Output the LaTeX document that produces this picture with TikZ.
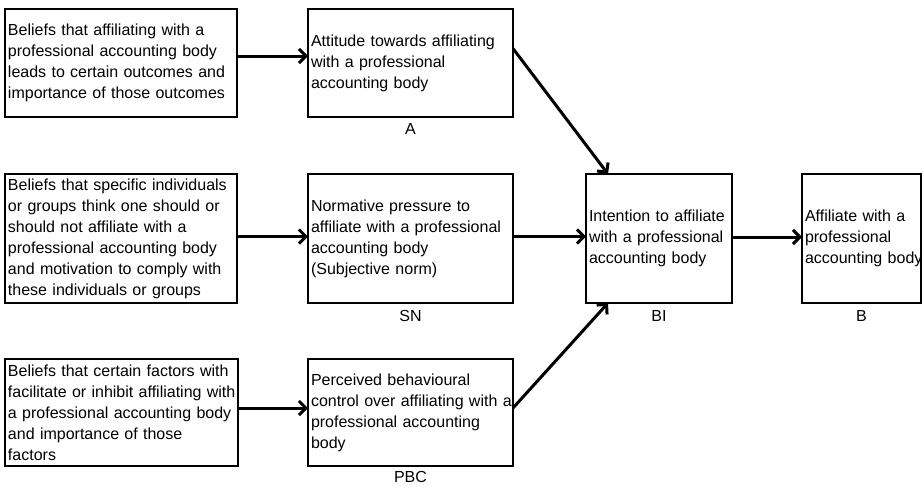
\documentclass[tikz,border=0pt]{standalone}
\usepackage{fontspec}
\setmainfont{Liberation Sans}
\usepackage{tikz}
\usetikzlibrary{arrows.meta}
\usetikzlibrary{positioning}
\hyphenpenalty=10000
\exhyphenpenalty=10000
\tikzset{box/.style={draw, line width=2pt, outer sep=0pt, anchor=north west, inner xsep=3pt, inner ysep=0pt, align=left, font=\fontsize{16}{21}\selectfont}}
\tikzset{tag/.style={inner sep=0pt, font=\fontsize{16}{21}\selectfont}}
\tikzset{link/.style={line width=3pt, -{Straight Barb[length=7pt,width=14pt]}}}

\begin{document}
\begin{tikzpicture}[x=1pt, y=-1pt]
{
\useasboundingbox (0,0) rectangle (923,485);
\node[box, text width=226pt, minimum height=108pt] (belatt) at (5,9) {Beliefs that affiliating with a\\professional accounting body\\leads to certain outcomes and\\importance of those outcomes};
\node[box, text width=199pt, minimum height=108pt] (att) at (308,9) {Attitude towards affiliating\\with a professional\\accounting body};
\node[box, text width=226pt, minimum height=129pt] (belsn) at (5,174) {Beliefs that specific individuals\\or groups think one should or\\should not affiliate with a\\professional accounting body\\and motivation to comply with\\these individuals or groups};
\node[box, text width=199pt, minimum height=129pt] (sn) at (308,174) {Normative pressure to\\affiliate with a professional\\accounting body\\(Subjective norm)};
\node[box, text width=140pt, minimum height=129pt] (bi) at (586,174) {Intention to affiliate\\with a professional\\accounting body};
\node[box, text width=113pt, minimum height=129pt] (beh) at (802,174) {Affiliate with a\\professional\\accounting~body};
\node[box, text width=227pt, minimum height=107pt] (belpbc) at (5,359) {Beliefs that certain factors with\\facilitate~or~inhibit~affiliating~with\\a professional accounting body\\and importance of those\\factors};
\node[box, text width=199pt, minimum height=107pt] (pbc) at (308,359) {Perceived behavioural\\control~over~affiliating~with~a\\professional accounting\\body};
\node[tag, below=6pt of att] (attlab) {A};
\node[tag, below=7pt of sn] (snlab) {SN};
\node[tag, below=7pt of bi] (bilab) {BI};
\node[tag, below=7pt of beh] (behlab) {B};
\node[tag, below=5pt of pbc] (pbclab) {PBC};
\draw[link] ([yshift=7pt]belatt.east) -- ([yshift=7pt]att.west);
\draw[link] ([yshift=2pt]belsn.east) -- ([yshift=2pt]sn.west);
\draw[link] ([yshift=4.5pt]belpbc.east) -- ([yshift=4.5pt]pbc.west);
\draw[link] ([yshift=14.5pt]att.east) -- ([xshift=22pt]bi.north west);
\draw[link] ([yshift=2pt]sn.east) -- ([yshift=2pt]bi.west);
\draw[link] ([yshift=4.5pt]pbc.east) -- ([xshift=22pt]bi.south west);
\draw[link] ([yshift=1.5pt]bi.east) -- ([yshift=1.5pt]beh.west);
}
\end{tikzpicture}
\end{document}
